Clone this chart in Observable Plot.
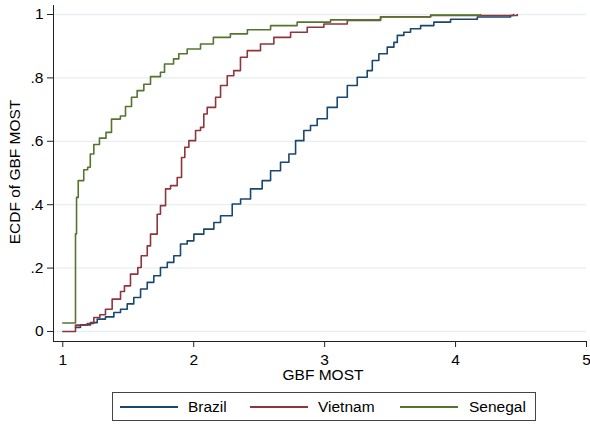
<!DOCTYPE html>
<html>
<head>
<meta charset="utf-8">
<script src="https://cdn.jsdelivr.net/npm/d3@7"></script>
<script src="https://cdn.jsdelivr.net/npm/@observablehq/plot@0.6"></script>
<style>
  html, body { margin: 0; padding: 0; background: #fff; }
  #wrap { position: relative; width: 590px; height: 424px; font-family: "Liberation Sans", Arial, sans-serif; }
  .title { position: absolute; font-size: 15.5px; color: #000; white-space: nowrap; }
  #legend { position: absolute; left: 112px; top: 392px; width: 424px; height: 29px; border: 1px solid #444; box-sizing: border-box; background: #fff; }
  .sw { position: absolute; top: 13px; height: 1.6px; }
  .lt { position: absolute; top: 5px; font-size: 15.5px; line-height: 17px; color: #000; }
</style>
</head>
<body>
<div id="wrap"></div>
<script>
// ---- data ----
const countries = ["Brazil", "Vietnam", "Senegal"];
const colors = ["#1a476f", "#90353b", "#55752f"];

const brazilX = [1.097,1.135,1.212,1.263,1.326,1.390,1.441,1.492,1.542,1.594,1.645,1.695,1.746,1.798,1.848,1.899,1.950,2.001,2.077,2.154,2.205,2.294,2.358,2.434,2.523,2.587,2.663,2.727,2.778,2.841,2.892,2.943,3.020,3.096,3.173,3.249,3.325,3.364,3.414,3.478,3.529,3.555,3.605,3.656,3.733,3.834,3.962,4.166,4.420,4.443];
const brazilY = [0.013,0.021,0.028,0.039,0.046,0.060,0.070,0.087,0.107,0.134,0.155,0.176,0.202,0.218,0.239,0.276,0.286,0.307,0.323,0.344,0.365,0.402,0.418,0.450,0.476,0.507,0.534,0.560,0.602,0.634,0.650,0.671,0.707,0.739,0.776,0.802,0.823,0.855,0.876,0.897,0.912,0.934,0.944,0.955,0.965,0.976,0.985,0.992,0.997,1.000];

const vietnamX = [1.000,1.097,1.186,1.237,1.283,1.326,1.377,1.441,1.471,1.517,1.573,1.599,1.645,1.670,1.721,1.746,1.785,1.823,1.874,1.907,1.932,1.963,2.014,2.052,2.077,2.103,2.167,2.205,2.256,2.306,2.357,2.409,2.510,2.612,2.740,2.867,2.994,3.173,3.427,3.809,4.471];
const vietnamY = [0.000,0.020,0.025,0.044,0.053,0.070,0.102,0.126,0.144,0.181,0.202,0.239,0.270,0.307,0.370,0.397,0.450,0.460,0.486,0.549,0.581,0.602,0.634,0.644,0.686,0.707,0.739,0.776,0.807,0.823,0.865,0.886,0.907,0.928,0.944,0.960,0.970,0.981,0.992,0.997,1.000];

const senegalX = [1.000,1.097,1.105,1.118,1.160,1.190,1.210,1.237,1.280,1.330,1.372,1.440,1.479,1.525,1.568,1.619,1.670,1.746,1.777,1.846,1.886,1.950,2.052,2.150,2.280,2.410,2.587,2.790,3.045,3.427,3.810,4.190];
const senegalY = [0.027,0.308,0.423,0.476,0.510,0.518,0.560,0.590,0.610,0.628,0.670,0.680,0.710,0.739,0.760,0.780,0.804,0.818,0.844,0.860,0.876,0.891,0.907,0.928,0.939,0.952,0.965,0.976,0.983,0.993,0.998,1.000];

const xTicks = [1, 2, 3, 4, 5];
const yTicks = [0, 0.2, 0.4, 0.6, 0.8, 1];
const yTickLabels = ["0", ".2", ".4", ".6", ".8", "1"];
const xDomain = [0.929, 5];
const yDomain = [-0.0316, 1.0284];

// ---- build table ----
const seriesX = [brazilX, vietnamX, senegalX];
const seriesY = [brazilY, vietnamY, senegalY];
const rows = [];
countries.forEach((c, i) => seriesX[i].forEach((x, j) => rows.push({country: c, x, y: seriesY[i][j]})));

const chart = Plot.plot({
  width: 590,
  height: 424,
  marginLeft: 53,
  marginRight: 4,
  marginTop: 5,
  marginBottom: 83,
  style: {fontFamily: "'Liberation Sans', Arial, sans-serif", fontSize: "15.5px", color: "#000", background: "#fff"},
  x: {domain: xDomain},
  y: {domain: yDomain},
  color: {domain: countries, range: colors},
  marks: [
    Plot.ruleY(yTicks, {stroke: "#e6eff1", strokeWidth: 1.3}),
    Plot.line(rows, {x: "x", y: "y", z: "country", stroke: "country", curve: "step-after", strokeWidth: 1.6}),
    Plot.ruleX([xDomain[0]], {stroke: "#222", strokeWidth: 1}),
    Plot.ruleY([yDomain[0]], {stroke: "#222", strokeWidth: 1}),
    Plot.axisY({ticks: yTicks, tickFormat: (d, i) => yTickLabels[i], tickSize: 6, tickPadding: 4, label: null, stroke: "#222", fontSize: 15.5}),
    Plot.axisX({ticks: xTicks, tickFormat: d => String(d), tickSize: 6, tickPadding: 6, label: null, stroke: "#222", fontSize: 15.5})
  ]
});

const wrap = document.getElementById("wrap");
wrap.appendChild(chart);
chart.style.position = "absolute";
chart.style.left = "0";
chart.style.top = "0";

// axis titles
const xt = document.createElement("div");
xt.className = "title";
xt.textContent = "GBF MOST";
xt.style.left = "323px"; xt.style.top = "366px"; xt.style.transform = "translateX(-50%)";
wrap.appendChild(xt);

const yt = document.createElement("div");
yt.className = "title";
yt.textContent = "ECDF of GBF MOST";
yt.style.left = "15px"; yt.style.top = "172px"; yt.style.transform = "translate(-50%,-50%) rotate(-90deg)";
wrap.appendChild(yt);

// legend
const lg = document.createElement("div");
lg.id = "legend";
const swLeft = [7, 137, 287];
const txtLeft = [75, 205, 356];
countries.forEach((c, i) => {
  const s = document.createElement("div");
  s.className = "sw";
  s.style.left = swLeft[i] + "px";
  s.style.width = "58px";
  s.style.background = colors[i];
  lg.appendChild(s);
  const t = document.createElement("div");
  t.className = "lt";
  t.textContent = c;
  t.style.left = txtLeft[i] + "px";
  lg.appendChild(t);
});
wrap.appendChild(lg);
</script>
</body>
</html>
